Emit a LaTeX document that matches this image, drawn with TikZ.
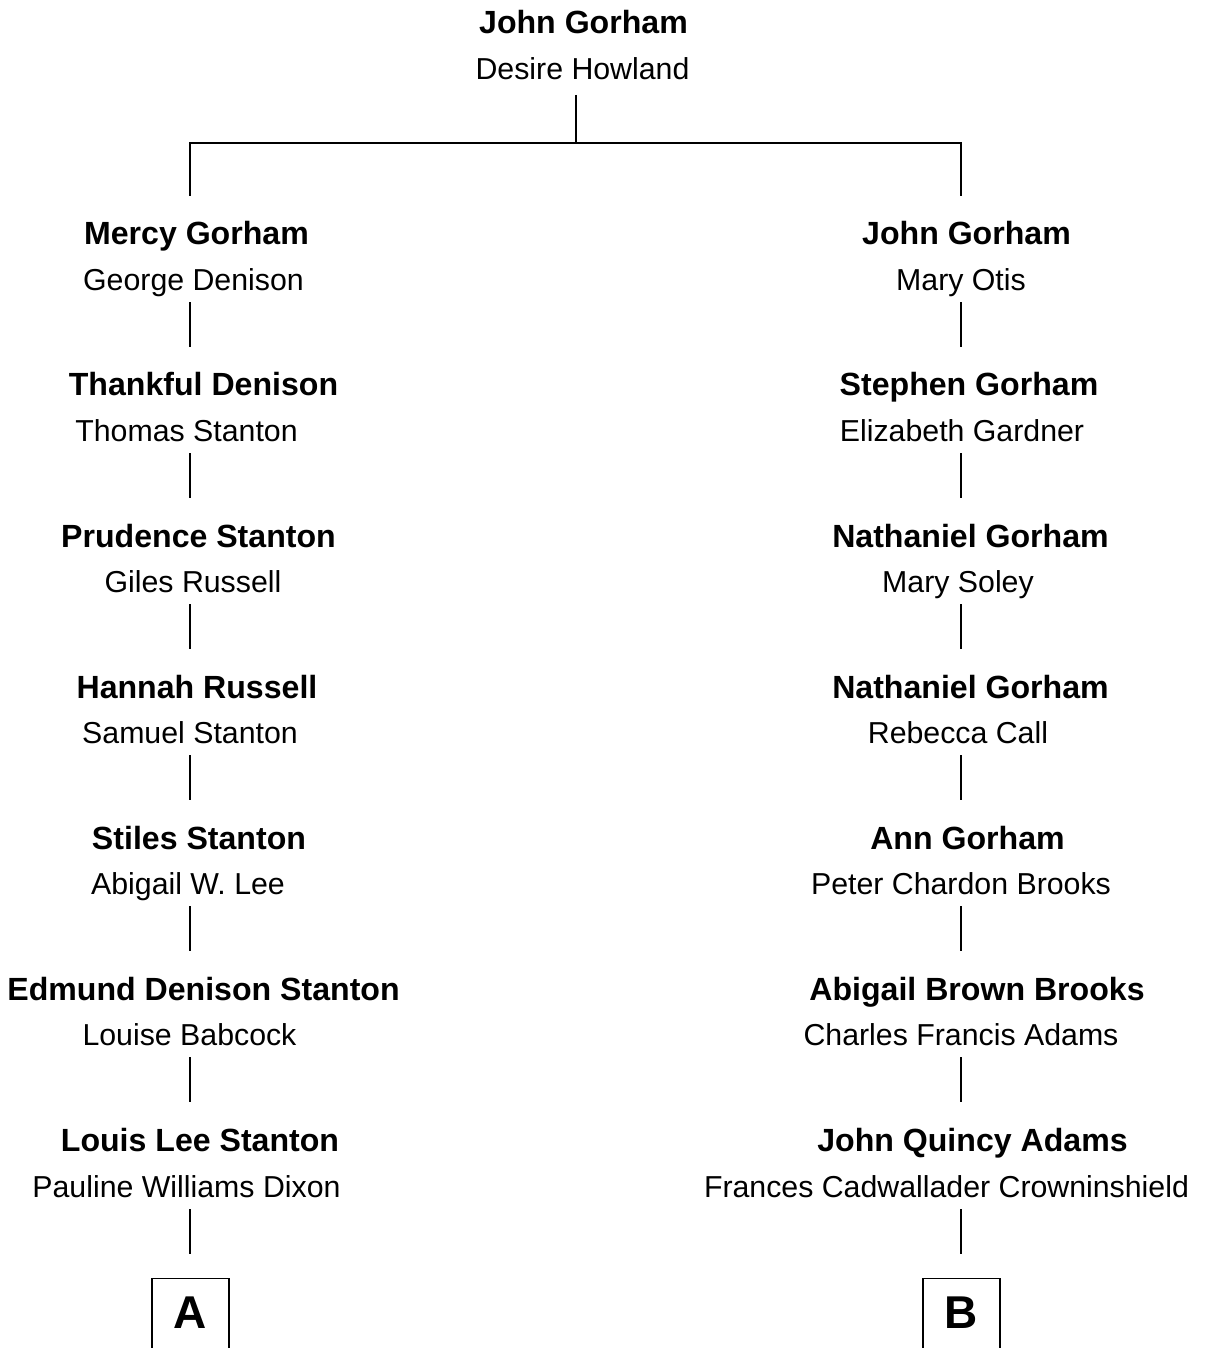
\documentclass[tikz,border=0pt]{standalone}
\usepackage{fontspec}
\setmainfont{Liberation Sans}
\begin{document}
\begin{tikzpicture}[x=1pt,y=-1pt,
  nm/.style={anchor=base,inner sep=0pt,font=\fontsize{32.1}{32}\selectfont\bfseries},
  sp/.style={anchor=base,inner sep=0pt,font=\fontsize{30.3}{30}\selectfont},
  ln/.style={line width=1.2pt},
  lbox/.style={draw,line width=1.2pt,minimum width=77pt,minimum height=120pt,anchor=north,inner sep=0pt},
  letr/.style={inner sep=0pt,font=\fontsize{46}{46}\selectfont\bfseries}]
\useasboundingbox (0,0) rectangle (1226,1348);
\clip (0,0) rectangle (1226,1348);
% top couple
\node[nm] (t1) at (583.5,34) {John Gorham};
\node[sp] (t2) at (582.5,80) {Desire Howland};
\coordinate (tA) at (576,95);
\coordinate (tJ) at (576,143);
\coordinate (jL) at (190,143);
\coordinate (jR) at (961,143);
\coordinate (dL) at (190,196);
\coordinate (dR) at (961,196);
\draw[ln] (tA) -- (tJ);
\draw[ln] (dL) -- (jL) -- (jR) -- (dR);
% left column
\node[nm] (a0) at (196.5,244) {Mercy Gorham};
\node[sp] (b0) at (193.5,290) {George Denison};
\node[nm] (a1) at (203.5,395) {Thankful Denison};
\node[sp] (b1) at (186.5,441) {Thomas Stanton};
\node[nm] (a2) at (198.5,547) {Prudence Stanton};
\node[sp] (b2) at (193,592) {Giles Russell};
\node[nm] (a3) at (197,698) {Hannah Russell};
\node[sp] (b3) at (190,743) {Samuel Stanton};
\node[nm] (a4) at (199,849) {Stiles Stanton};
\node[sp] (b4) at (188,894) {Abigail W. Lee};
\node[nm] (a5) at (203.5,1000) {Edmund Denison Stanton};
\node[sp] (b5) at (189.5,1045) {Louise Babcock};
\node[nm] (a6) at (200,1151) {Louis Lee Stanton};
\node[sp] (b6) at (186.5,1197) {Pauline Williams Dixon};
% right column
\node[nm] (c0) at (966.5,244) {John Gorham};
\node[sp] (d0) at (961,290) {Mary Otis};
\node[nm] (c1) at (969,395) {Stephen Gorham};
\node[sp] (d1) at (962,441) {Elizabeth Gardner};
\node[nm] (c2) at (970.5,547) {Nathaniel Gorham};
\node[sp] (d2) at (958,592) {Mary Soley};
\node[nm] (c3) at (970.5,698) {Nathaniel Gorham};
\node[sp] (d3) at (958,743) {Rebecca Call};
\node[nm] (c4) at (967.5,849) {Ann Gorham};
\node[sp] (d4) at (961,894) {Peter Chardon Brooks};
\node[nm] (c5) at (977,1000) {Abigail Brown Brooks};
\node[sp] (d5) at (961,1045) {Charles Francis Adams};
\node[nm] (c6) at (972.5,1151) {John Quincy Adams};
\node[sp] (d6) at (946.5,1197) {Frances Cadwallader Crowninshield};
% connectors
\foreach \i/\ya/\yb in {0/302/347,1/453/498,2/604/649,3/755/800,4/906/951,5/1057/1102,6/1209/1254}{
  \coordinate (lu\i) at (190,\ya);
  \coordinate (ld\i) at (190,\yb);
  \coordinate (ru\i) at (961,\ya);
  \coordinate (rd\i) at (961,\yb);
  \draw[ln] (lu\i) -- (ld\i);
  \draw[ln] (ru\i) -- (rd\i);
}
% boxes
\node[lbox] (bxA) at (190.5,1278) {};
\node[lbox] (bxB) at (961.5,1278) {};
\node[letr] (lA) at (190.5,1313) {A};
\node[letr] (lB) at (961.5,1313) {B};
\end{tikzpicture}
\end{document}
